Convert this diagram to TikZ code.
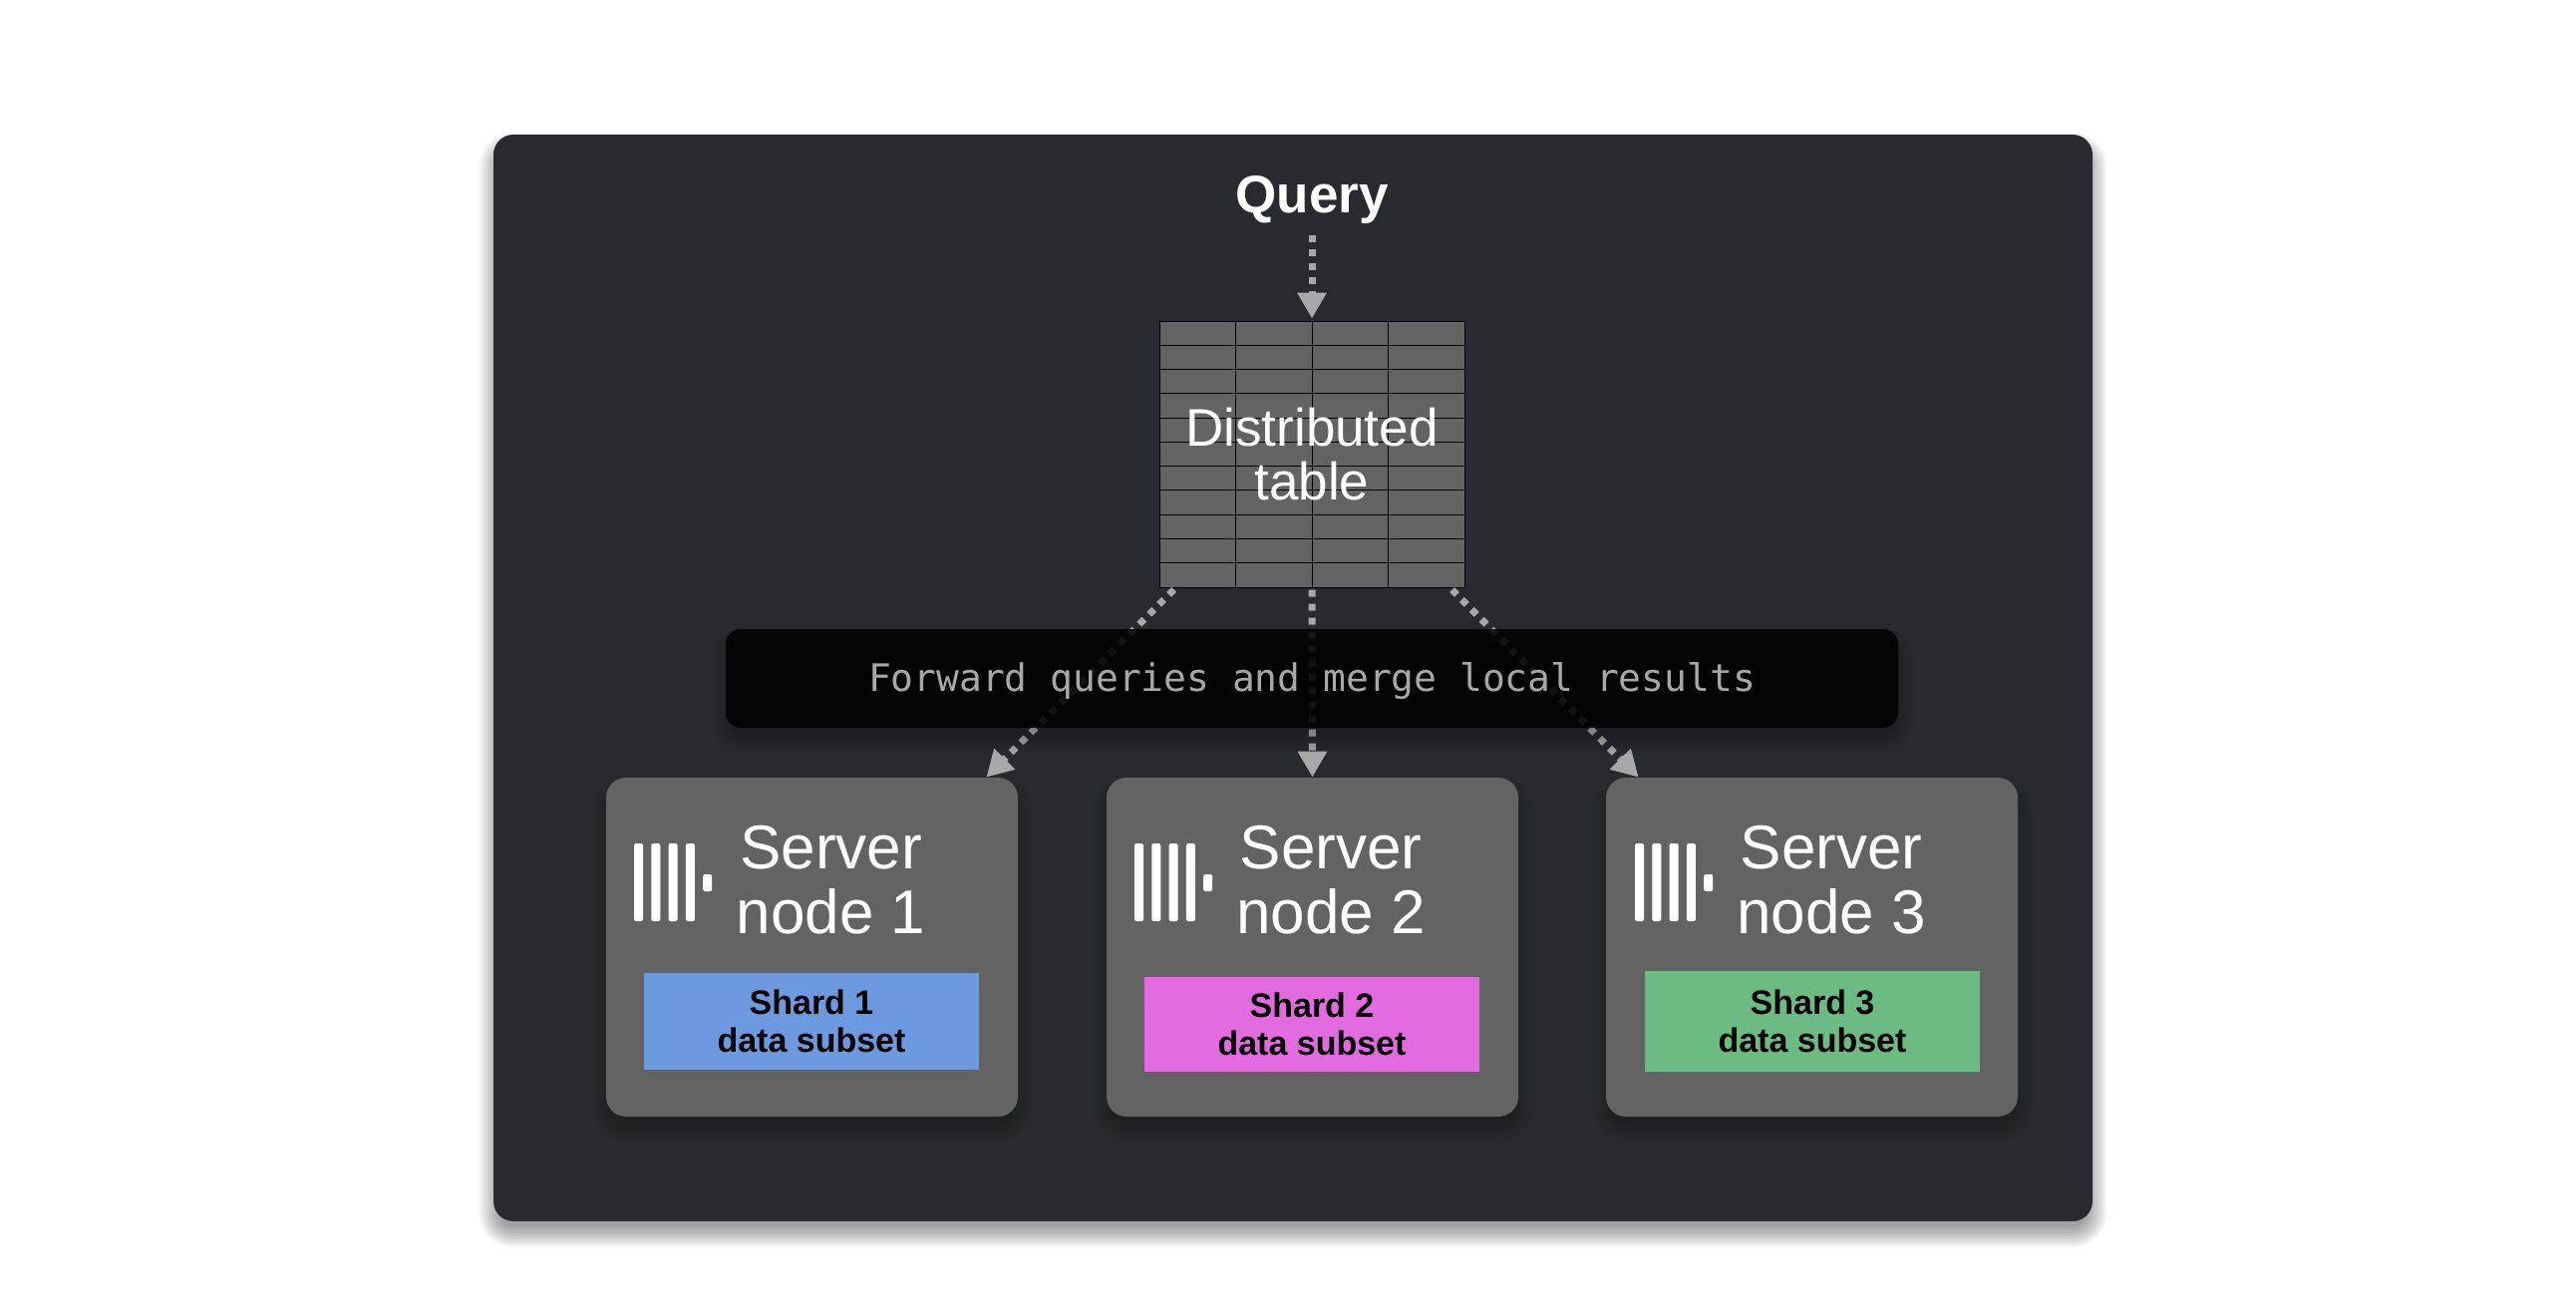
\documentclass[tikz,border=0pt]{standalone}
\usepackage{fontspec}
\setmainfont{Liberation Sans}
\setmonofont{DejaVu Sans Mono}
\usetikzlibrary{arrows.meta}
\definecolor{panelgray}{HTML}{292A2F}
\definecolor{boxgray}{HTML}{636363}
\definecolor{flowgray}{HTML}{A8A8A8}
\definecolor{shardblue}{HTML}{6D9ADF}
\definecolor{shardpink}{HTML}{E26BE0}
\definecolor{shardgreen}{HTML}{6CBB82}
\def\px{0.5pt}
\newcommand{\softshadow}[6]{
  \foreach \g in {-6,-4,...,14}
    \fill [black,opacity=#6,rounded corners={max(#5+\g,2)*\px}] (#1-\g,#2-\g+12) rectangle (#3+\g,#4+\g+12);
}
\tikzset{
  panelbox/.style={fill=panelgray,rounded corners=10pt,inner sep=0pt,minimum width=1604*\px,minimum height=1090*\px},
  serverbox/.style={fill=boxgray,rounded corners=10pt,inner sep=0pt,minimum width=413*\px,minimum height=340*\px},
  shardbox/.style={inner sep=0pt,minimum width=336*\px,text=black,align=center,font=\fontsize{17}{19}\selectfont\bfseries},
  servertext/.style={text=white,inner sep=0pt,align=center,font=\fontsize{31}{32.5}\selectfont},
  flowline/.style={draw=flowgray,line width=3.5pt,dash pattern=on 3.5pt off 3.5pt,-{Triangle[length=13pt,width=14pt]}},
  gridline/.style={draw=black,line width=0.5pt},
  logomark/.pic={
    \foreach \x in {0,17.3,34.6,51.9}
      \fill [white,rounded corners=1pt] (\x,0) rectangle (\x+9,78);
    \fill [white,rounded corners=1pt] (69.2,31) rectangle (78.2,48);
  }
}
\begin{document}
\begin{tikzpicture}[x=0.5pt,y=-0.5pt]
    \useasboundingbox (0,0) rectangle (2584,1303);
    \softshadow{495}{135}{2099}{1225}{20}{.04}
    \node [panelbox] (panel) at (1297,680) {};
    \node [text=white,inner sep=0pt,anchor=base,font=\fontsize{26.5}{27}\selectfont\bfseries] (query) at (1316,213) {Query};
    \node [fill=boxgray,draw=black,line width=0.5pt,inner sep=0pt,minimum width=306*\px,minimum height=267*\px] (table) at (1316,455.5) {};
    \foreach \i in {1,2,3}
      \draw [gridline] (1163+\i*76.5,322) -- (1163+\i*76.5,589);
    \foreach \i in {1,...,10}
      \draw [gridline] (1163,322+\i*24.27) -- (1469,322+\i*24.27);
    \node [text=white,inner sep=0pt,align=center,font=\fontsize{26.5}{27}\selectfont] (tablelabel) at (1316,456) {Distributed\\table};
    \softshadow{608}{780}{1021}{1120}{20}{.025}
    \softshadow{1110}{780}{1523}{1120}{20}{.025}
    \softshadow{1612}{780}{2024}{1120}{20}{.025}
    \node [serverbox] (server1) at (814.5,950) {};
    \node [serverbox] (server2) at (1316.5,950) {};
    \node [serverbox] (server3) at (1817.5,950) {};
    \draw [flowline,shorten >=1pt] ([yshift=-6pt]query.south) -- (table.north);
    \draw [flowline] ([xshift=7.5pt,yshift=-1pt]table.south west) -- ([xshift=-16pt]server1.north east);
    \draw [flowline] ([yshift=-1pt]table.south) -- (server2.north);
    \draw [flowline] ([xshift=-6.5pt,yshift=-1pt]table.south east) -- ([xshift=16.5pt]server3.north west);
    \softshadow{728}{631}{1904}{730}{15}{.02}
    \node [fill=black,fill opacity=.85,rounded corners=7.5pt,inner sep=0pt,minimum width=1176*\px,minimum height=99*\px] (merge) at (1316,680.5) {};
    \node [text=flowgray,inner sep=0pt,font=\fontsize{18.95}{20}\selectfont\ttfamily] (mergelabel) at (1316,683) {Forward queries and merge local results};
    \pic at (636,846) {logomark};
    \pic at (1138,846) {logomark};
    \pic at (1640,846) {logomark};
    \node [servertext] (label1) at (833.5,883) {Server\\node 1};
    \node [servertext] (label2) at (1335,883) {Server\\node 2};
    \node [servertext] (label3) at (1837,883) {Server\\node 3};
    \node [shardbox,fill=shardblue,minimum height=97*\px] (shard1) at (814,1024.5) {Shard 1\\data subset};
    \node [shardbox,fill=shardpink,minimum height=95*\px] (shard2) at (1316,1027.5) {Shard 2\\data subset};
    \node [shardbox,fill=shardgreen,minimum height=101*\px] (shard3) at (1818,1024.5) {Shard 3\\data subset};
\end{tikzpicture}
\end{document}
